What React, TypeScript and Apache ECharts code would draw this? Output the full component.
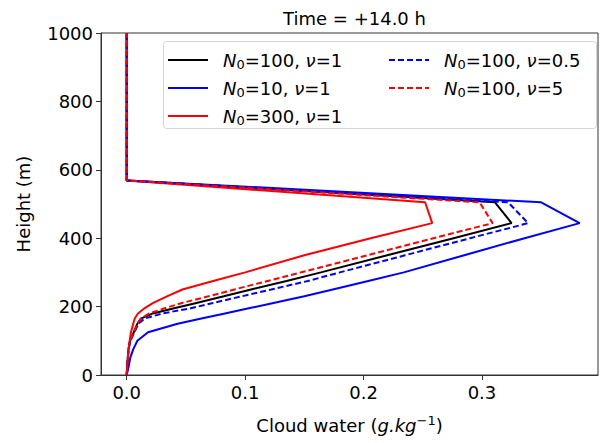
import React, { useEffect, useRef } from "react";
import * as echarts from "echarts";

const heights = [0, 25, 50, 75, 100, 125, 150, 165, 180, 195, 210, 230, 250, 275, 300, 350, 400, 444, 505, 569, 1000];

const blackN100nu1 = [0, 0.0004, 0.0009, 0.0015, 0.0028, 0.006, 0.009, 0.012, 0.022, 0.040, 0.058, 0.082, 0.105, 0.135, 0.164, 0.220, 0.276, 0.325, 0.311, 0, 0];
const blueN10nu1 = [0, 0.0017, 0.003, 0.0055, 0.009, 0.018, 0.043, 0.063, 0.083, 0.103, 0.123, 0.150, 0.174, 0.204, 0.234, 0.285, 0.336, 0.3825, 0.350, 0, 0];
const redN300nu1 = [0, 0.0005, 0.001, 0.0015, 0.0025, 0.0036, 0.0055, 0.0068, 0.0095, 0.015, 0.022, 0.034, 0.047, 0.073, 0.100, 0.150, 0.206, 0.258, 0.252, 0, 0];
const blueDashN100nu05 = [0, 0.0004, 0.001, 0.0017, 0.003, 0.0065, 0.010, 0.015, 0.030, 0.054, 0.072, 0.097, 0.122, 0.153, 0.180, 0.235, 0.290, 0.339, 0.322, 0, 0];
const redDashN100nu5 = [0, 0.0004, 0.0009, 0.0015, 0.0028, 0.006, 0.009, 0.012, 0.019, 0.032, 0.046, 0.069, 0.091, 0.119, 0.147, 0.203, 0.259, 0.309, 0.298, 0, 0];

const xTicks = [0, 0.1, 0.2, 0.3];

const seriesDefs = [
  { name: "N0=100, ν=1", values: blackN100nu1, color: "#000000", dashed: false },
  { name: "N0=10, ν=1", values: blueN10nu1, color: "#0000ff", dashed: false },
  { name: "N0=300, ν=1", values: redN300nu1, color: "#ff0000", dashed: false },
  { name: "N0=100, ν=0.5", values: blueDashN100nu05, color: "#0000ff", dashed: true },
  { name: "N0=100, ν=5", values: redDashN100nu5, color: "#ff0000", dashed: true },
];

const FONT = "DejaVu Sans";

const legendRich = {
  i0: { fontFamily: FONT, fontSize: 18, fontStyle: "italic", color: "#000", padding: [0, 0, 0, 10], lineHeight: 22 },
  i: { fontFamily: FONT, fontSize: 18, fontStyle: "italic", color: "#000", lineHeight: 22 },
  s: { fontFamily: FONT, fontSize: 13, color: "#000", padding: [9, 0, 0, 0], lineHeight: 22 },
  t: { fontFamily: FONT, fontSize: 18, color: "#000", lineHeight: 22 },
};

function legendFormatter(name: string) {
  const m = name.match(/^N0=(\d+), ν=(.+)$/);
  if (!m) return name;
  return `{i0|N}{s|0}{t|=${m[1]}, }{i|ν}{t|=${m[2]}}`;
}

const legendCommon = {
  orient: "vertical",
  top: 49,
  padding: 0,
  itemWidth: 40,
  itemHeight: 14,
  itemGap: 6,
  formatter: legendFormatter,
  textStyle: { rich: legendRich },
  itemStyle: { opacity: 0, color: "rgba(0,0,0,0)", borderWidth: 0 },
  selectedMode: false,
};

export default function App() {
  const ref = useRef<HTMLDivElement>(null);
  useEffect(() => {
    if (!ref.current) return;
    const chart = echarts.init(ref.current, null, { renderer: "svg" });
    const left = 101, top = 33, right = 598, bottom = 375;
    chart.setOption({
      animation: false,
      backgroundColor: "#ffffff",
      title: {
        text: "Time = +14.0 h",
        left: (left + right) / 2,
        textAlign: "center",
        top: 4,
        textStyle: { fontFamily: FONT, fontSize: 18, fontWeight: "normal", color: "#000" },
      },
      grid: {
        left: left,
        top: top,
        width: right - left,
        height: bottom - top,
        show: true,
        borderColor: "#333",
        borderWidth: 1,
        backgroundColor: "transparent",
      },
      graphic: [
        {
          type: "rect",
          z: 0,
          shape: { x: 163.5, y: 41.5, width: 433, height: 87, r: 3 },
          style: { fill: "rgba(255,255,255,0.85)", stroke: "#d5d5d5", lineWidth: 1 },
        },
      ],
      legend: [
        { ...legendCommon, data: seriesDefs.slice(0, 3).map((s) => s.name), left: 167 },
        { ...legendCommon, data: seriesDefs.slice(3).map((s) => s.name), left: 388 },
      ],
      xAxis: {
        type: "value",
        min: -0.0217,
        max: 0.398,
        name: "{t|Cloud water (}{i|g.kg}{sup|−1}{t|)}",
        nameLocation: "middle",
        nameGap: 39,
        nameTextStyle: {
          rich: {
            t: { fontFamily: FONT, fontSize: 18, color: "#000" },
            i: { fontFamily: FONT, fontSize: 18, fontStyle: "italic", color: "#000" },
            sup: { fontFamily: FONT, fontSize: 13, color: "#000", padding: [0, 0, 9, 0] },
          },
        },
        axisLine: { show: true, onZero: false, lineStyle: { color: "#333", width: 1 } },
        axisTick: { show: true, inside: false, length: 5, customValues: xTicks, lineStyle: { color: "#333" } },
        axisLabel: {
          customValues: xTicks,
          formatter: (v: number) => v.toFixed(1),
          fontFamily: FONT,
          fontSize: 18,
          color: "#000",
          margin: 8,
        },
        splitLine: { show: false },
      },
      yAxis: {
        type: "value",
        min: 0,
        max: 1000,
        interval: 200,
        name: "Height (m)",
        nameLocation: "middle",
        nameGap: 69,
        nameTextStyle: { fontFamily: FONT, fontSize: 18, color: "#000" },
        axisLine: { show: true, onZero: false, lineStyle: { color: "#333", width: 1 } },
        axisTick: { show: true, inside: false, length: 5, lineStyle: { color: "#333" } },
        axisLabel: { fontFamily: FONT, fontSize: 18, color: "#000", margin: 8, formatter: (v: number) => String(v) },
        splitLine: { show: false },
      },
      series: seriesDefs.map((s) => ({
        name: s.name,
        type: "line",
        symbol: "none",
        smooth: false,
        data: heights.map((h, i) => [s.values[i], h]),
        lineStyle: { color: s.color, width: 2, type: s.dashed ? [6, 3] : "solid" },
        itemStyle: { color: s.color },
      })),
    });
    return () => chart.dispose();
  }, []);
  return <div ref={ref} style={{ position: "fixed", left: 0, top: 0, width: 604, height: 443 }} />;
}
